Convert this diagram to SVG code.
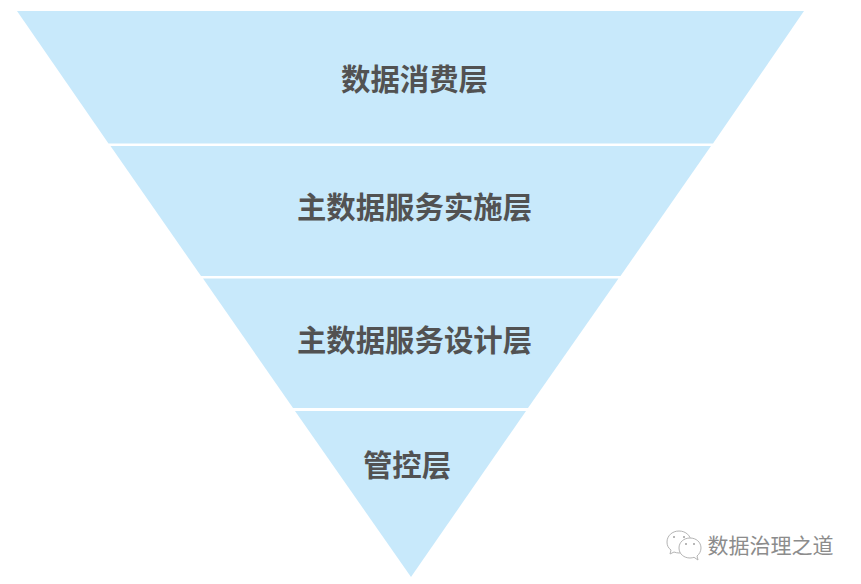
<svg xmlns="http://www.w3.org/2000/svg" width="861" height="584" viewBox="0 0 861 584">
<style>
.l{fill:#c8e9fb}
.t{font-family:"Noto Sans CJK SC","Liberation Sans",sans-serif;font-size:29.400px;font-weight:700;fill:#525252;text-anchor:middle}
.w{font-family:"Noto Sans CJK SC","Liberation Sans",sans-serif;font-size:21px;fill:#8c8c8c;text-anchor:middle}
.b{fill:#fff;stroke:#b4b4b4;stroke-width:1}
.d{fill:#a0a0a0}
</style>
<rect width="861" height="584" fill="#fff"/>
<g id="layer1"><polygon class="l" points="17,11 804,11 713,143.500 108.500,143.500"/><text class="t" x="414.500" y="90">数据消费层</text></g>
<g id="layer2"><polygon class="l" points="110.500,146 711,146 620.500,276 201,276"/><text class="t" x="414.500" y="218">主数据服务实施层</text></g>
<g id="layer3"><polygon class="l" points="203,278.500 618.500,278.500 528,408 293,408"/><text class="t" x="414.500" y="351">主数据服务设计层</text></g>
<g id="layer4"><polygon class="l" points="295,411 526,411 411,577"/><text class="t" x="407" y="476">管控层</text></g>
<g id="watermark">
<path class="b" d="M679 531c-7 0-12 5-12 11 0 3 1 6 4 8l-1 4 4-2c2 .6 3 1 5 1 7 0 12-5 12-11s-5-11-12-11z"/>
<path class="b" d="M690 538c-6 0-11 4-11 10s5 10 11 10c1.500 0 3-.3 4-.7l4 2.700-1-4c2.500-2 4-5 4-8 0-6-5-10-11-10z"/>
<circle class="d" cx="674" cy="537" r="1"/><circle class="d" cx="684" cy="537" r="1"/>
<circle class="d" cx="686" cy="544" r="1"/><circle class="d" cx="694" cy="544" r="1"/>
<text class="w" x="770.500" y="553">数据治理之道</text>
</g>
</svg>
